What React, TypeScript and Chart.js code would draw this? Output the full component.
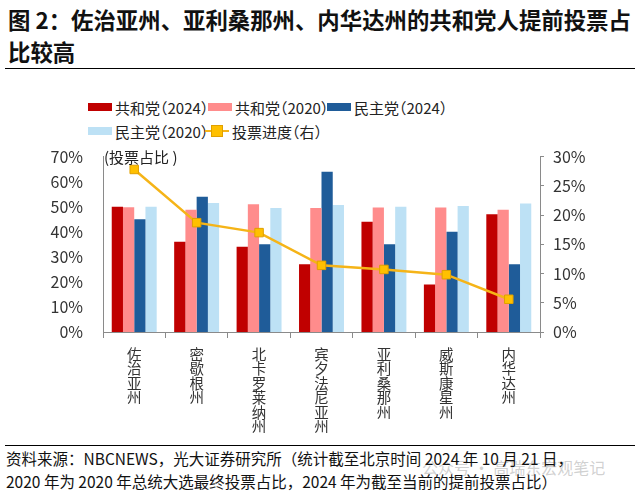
import React, { useEffect, useRef } from "react";
import { Chart, registerables } from "chart.js";

Chart.register(...registerables);

const FONT = '"Noto Sans CJK SC", "Noto Sans", sans-serif';

const states = ["佐治亚州", "密歇根州", "北卡罗莱纳州", "宾夕法尼亚州", "亚利桑那州", "威斯康星州", "内华达州"];
const rep2024 = [50, 36, 34, 27, 44, 19, 47];
const rep2020 = [49.8, 48.8, 51, 49.5, 49.7, 49.7, 48.8];
const dem2024 = [45, 54, 35, 64, 35, 40, 27];
const dem2020 = [50, 51.5, 49.5, 50.7, 50, 50.3, 51.3];
const voteProgress = [27.8, 18.7, 17, 11.4, 10.7, 9.8, 5.6];

const leftTicks = { min: 0, max: 70, step: 10 };
const rightTicks = { min: 0, max: 30, step: 5 };

const C_R24 = "#C00000";
const C_R20 = "#FF8C8C";
const C_D24 = "#1F5C99";
const C_D20 = "#BDE1F5";
const C_LINE = "#F5B418";
const C_PT = "#FFC000";

function LegendItem({ color, label, line }: { color: string; label: string; line?: boolean }) {
  return (
    <div style={{ display: "flex", alignItems: "center", whiteSpace: "nowrap" }}>
      {line ? (
        <div style={{ position: "relative", width: 24, height: 12, marginRight: 3, flex: "none" }}>
          <div style={{ position: "absolute", left: 0, top: 5, width: 24, height: 2, background: C_LINE }} />
          <div style={{ position: "absolute", left: 6, top: 0, width: 10, height: 10, background: C_PT, border: "1px solid #E0A000" }} />
        </div>
      ) : (
        <div style={{ width: 24, height: 8, background: color, marginRight: 3, flex: "none" }} />
      )}
      <span style={{ whiteSpace: "nowrap" }}>{label}</span>
    </div>
  );
}

export default function App() {
  const ref = useRef<HTMLCanvasElement>(null);
  useEffect(() => {
    if (!ref.current) return;
    const chart = new Chart(ref.current, {
      type: "bar",
      data: {
        labels: states,
        datasets: [
          { type: "line", label: "投票进度（右）", data: voteProgress, yAxisID: "y1", borderColor: C_LINE, borderWidth: 2.5, pointStyle: "rect", pointRadius: 6, pointBackgroundColor: C_PT, pointBorderColor: "#E0A000", pointBorderWidth: 1, order: 0, tension: 0 } as any,
          { label: "共和党（2024）", data: rep2024, backgroundColor: C_R24, yAxisID: "y", order: 1 },
          { label: "共和党（2020）", data: rep2020, backgroundColor: C_R20, yAxisID: "y", order: 1 },
          { label: "民主党（2024）", data: dem2024, backgroundColor: C_D24, yAxisID: "y", order: 1 },
          { label: "民主党（2020）", data: dem2020, backgroundColor: C_D20, yAxisID: "y", order: 1 },
        ],
      },
      options: {
        responsive: false,
        animation: false,
        datasets: { bar: { categoryPercentage: 0.72, barPercentage: 1.0 } },
        layout: { padding: { top: 1, left: 0, right: 0, bottom: 0 } },
        plugins: { legend: { display: false }, tooltip: { enabled: false } },
        scales: {
          x: {
            grid: { offset: true, drawOnChartArea: false, tickLength: 6, color: "#8a8a8a" },
            border: { color: "#8a8a8a" },
            ticks: {
              font: { size: 14.5, family: FONT, lineHeight: 1.0 },
              color: "#333",
              maxRotation: 0,
              autoSkip: false,
              padding: 9,
              callback: (_v: any, i: number) => states[i].split(""),
            },
            afterFit: (s: any) => { s.height = 113; },
          },
          y: {
            position: "left",
            min: leftTicks.min,
            max: leftTicks.max,
            ticks: { stepSize: leftTicks.step, font: { size: 16, family: FONT }, color: "#333", padding: 12, callback: (v: any) => v + "%" },
            grid: { display: false },
            border: { color: "#8a8a8a" },
            afterFit: (s: any) => { s.width = 103; },
          },
          y1: {
            position: "right",
            min: rightTicks.min,
            max: rightTicks.max,
            ticks: { stepSize: rightTicks.step, font: { size: 16, family: FONT }, color: "#333", padding: 9, callback: (v: any) => v + "%" },
            grid: { drawOnChartArea: false, tickLength: 4, color: "#8a8a8a" },
            border: { color: "#8a8a8a" },
            afterFit: (s: any) => { s.width = 100; },
          },
        },
      } as any,
    });
    return () => chart.destroy();
  }, []);

  return (
    <div style={{ position: "fixed", left: 0, top: 0, width: 640, height: 495, background: "#fff", fontFamily: FONT, color: "#111", overflow: "hidden" }}>
      <div style={{ position: "absolute", left: 8, top: 3, fontSize: 22.4, fontWeight: 700, lineHeight: "32px", whiteSpace: "nowrap" }}>
        图 2：佐治亚州、亚利桑那州、内华达州的共和党人提前投票占<br />比较高
      </div>
      <div style={{ position: "absolute", left: 5, top: 68, width: 630, height: 1, background: "#000" }} />
      <div style={{ position: "absolute", left: 88, top: 95, width: 500, fontSize: 15, color: "#222", whiteSpace: "nowrap", fontFeatureSettings: '"halt"' }}>
        <div style={{ display: "flex", height: 24, alignItems: "center" }}>
          <div style={{ width: 120, flex: "none" }}><LegendItem color={C_R24} label="共和党（2024）" /></div>
          <div style={{ width: 119, flex: "none" }}><LegendItem color={C_R20} label="共和党（2020）" /></div>
          <div style={{ flex: "none" }}><LegendItem color={C_D24} label="民主党（2024）" /></div>
        </div>
        <div style={{ display: "flex", height: 24, alignItems: "center" }}>
          <div style={{ width: 117, flex: "none" }}><LegendItem color={C_D20} label="民主党（2020）" /></div>
          <div style={{ flex: "none" }}><LegendItem color="" label="投票进度（右）" line /></div>
        </div>
      </div>
      <div style={{ position: "absolute", left: 0, top: 135, width: 640, height: 310 }}>
        <canvas ref={ref} width={640} height={310} style={{ width: 640, height: 310 }} />
      </div>
      <div style={{ position: "absolute", left: 104, top: 146, fontSize: 15, color: "#222" }}>(投票占比 )</div>
      <div style={{ position: "absolute", left: 5, top: 445, width: 630, height: 1, background: "#000" }} />
      <div style={{ position: "absolute", left: 422, top: 455, fontSize: 16, color: "rgba(170,170,170,0.55)", whiteSpace: "nowrap" }}>公众号 · 高瑞东宏观笔记</div>
      <div style={{ position: "absolute", left: 6, top: 447, fontSize: 15.5, lineHeight: "23px", color: "#111", whiteSpace: "nowrap" }}>
        资料来源：NBCNEWS，光大证券研究所（统计截至北京时间 2024 年 10 月 21 日，<br />
        2020 年为 2020 年总统大选最终投票占比，2024 年为截至当前的提前投票占比）
      </div>
    </div>
  );
}
